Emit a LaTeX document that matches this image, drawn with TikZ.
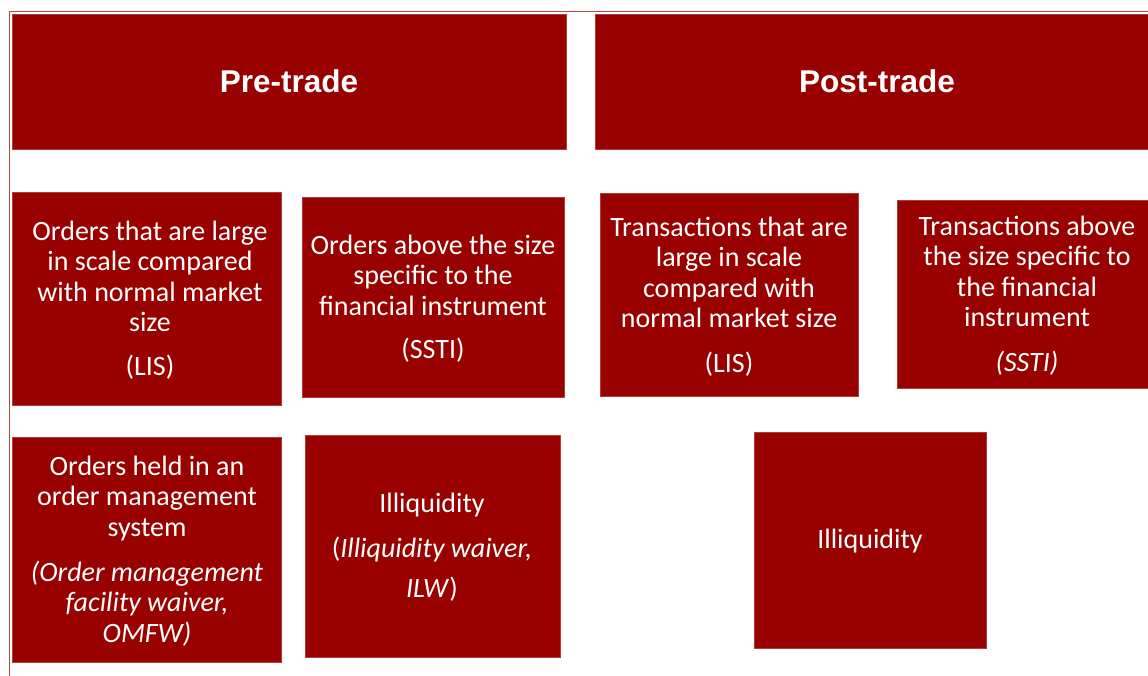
\documentclass[tikz,border=0pt]{standalone}
\usepackage{fontspec}
\setmainfont{Carlito}
\newfontfamily\headfont{Liberation Sans}
\usetikzlibrary{fit}
\definecolor{boxred}{RGB}{153,0,0}
\definecolor{edgered}{RGB}{178,60,60}
\definecolor{framered}{RGB}{180,70,70}

\begin{document}
\begin{tikzpicture}[x=1pt,y=-1pt,
  panel/.style={fill=boxred, draw=edgered, line width=0.5pt, inner sep=0pt},
  headtext/.style={text=white, inner sep=0pt,
    font=\headfont\bfseries\fontsize{31.5}{36}\selectfont},
  bodytext/.style={text=white, align=center, inner sep=0pt,
    font=\fontsize{28}{30.5}\selectfont}]

\useasboundingbox (0,0) rectangle (1148,676);

% outer frame (top and left edges)
\coordinate (frameBL) at (9.5,676);
\coordinate (frameTL) at (9.5,11);
\coordinate (frameTR) at (1148,11);
\draw[framered, line width=0.9pt] (frameBL) -- (frameTL) -- (frameTR);

% column headers
\node[panel, fit={(12,14) (566,149)}] (preHead) {};
\node[panel, fit={(595,14) (1159,149)}] (postHead) {};
\node[headtext] (preTitle) at (289,81.5) {Pre-trade};
\node[headtext] (postTitle) at (877,81.5) {Post-trade};

% pre-trade waivers, first row
\node[panel, fit={(12,192) (281,405)}] (preLIS) {};
\node[bodytext] (preLIStxt) at (150,300)
  {Orders that are large\\ in scale compared\\ with normal market\\ size\\[13pt] (LIS)};

\node[panel, fit={(302,197) (564,397)}] (preSSTI) {};
\node[bodytext] (preSSTItxt) at (433,298.5)
  {Orders above the size\\ specific to the\\ financial instrument\\[12.5pt] (SSTI)};

% post-trade deferrals, first row
\node[panel, fit={(600,193) (858,396)}] (postLIS) {};
\node[bodytext] (postLIStxt) at (729,296.5)
  {Transactions that are\\ large in scale\\ compared with\\ normal market size\\[14.5pt] (LIS)};

\node[panel, fit={(897,200) (1156,388)}] (postSSTI) {};
\node[bodytext] (postSSTItxt) at (1027,295.5)
  {Transactions above\\ the size specific to\\ the financial\\ instrument\\[14.5pt] \textit{(SSTI)}};

% second row
\node[panel, fit={(12,437) (281,662)}] (preOMF) {};
\node[bodytext] (preOMFtxt) at (147,551)
  {Orders held in an\\ order management\\ system\\[14.5pt] \textit{(Order management}\\ \textit{facility waiver,}\\ \textit{OMFW)}};

\node[panel, fit={(305,435) (560,657)}] (preILW) {};
\node[bodytext] (preILWtxt) at (432,547.5)
  {Illiquidity\\[14.5pt] (\textit{Illiquidity waiver,}\\[9.5pt] \textit{ILW})};

\node[panel, fit={(754,432) (986,648)}] (postILQ) {};
\node[bodytext] (postILQtxt) at (870,541) {Illiquidity};

\end{tikzpicture}
\end{document}
